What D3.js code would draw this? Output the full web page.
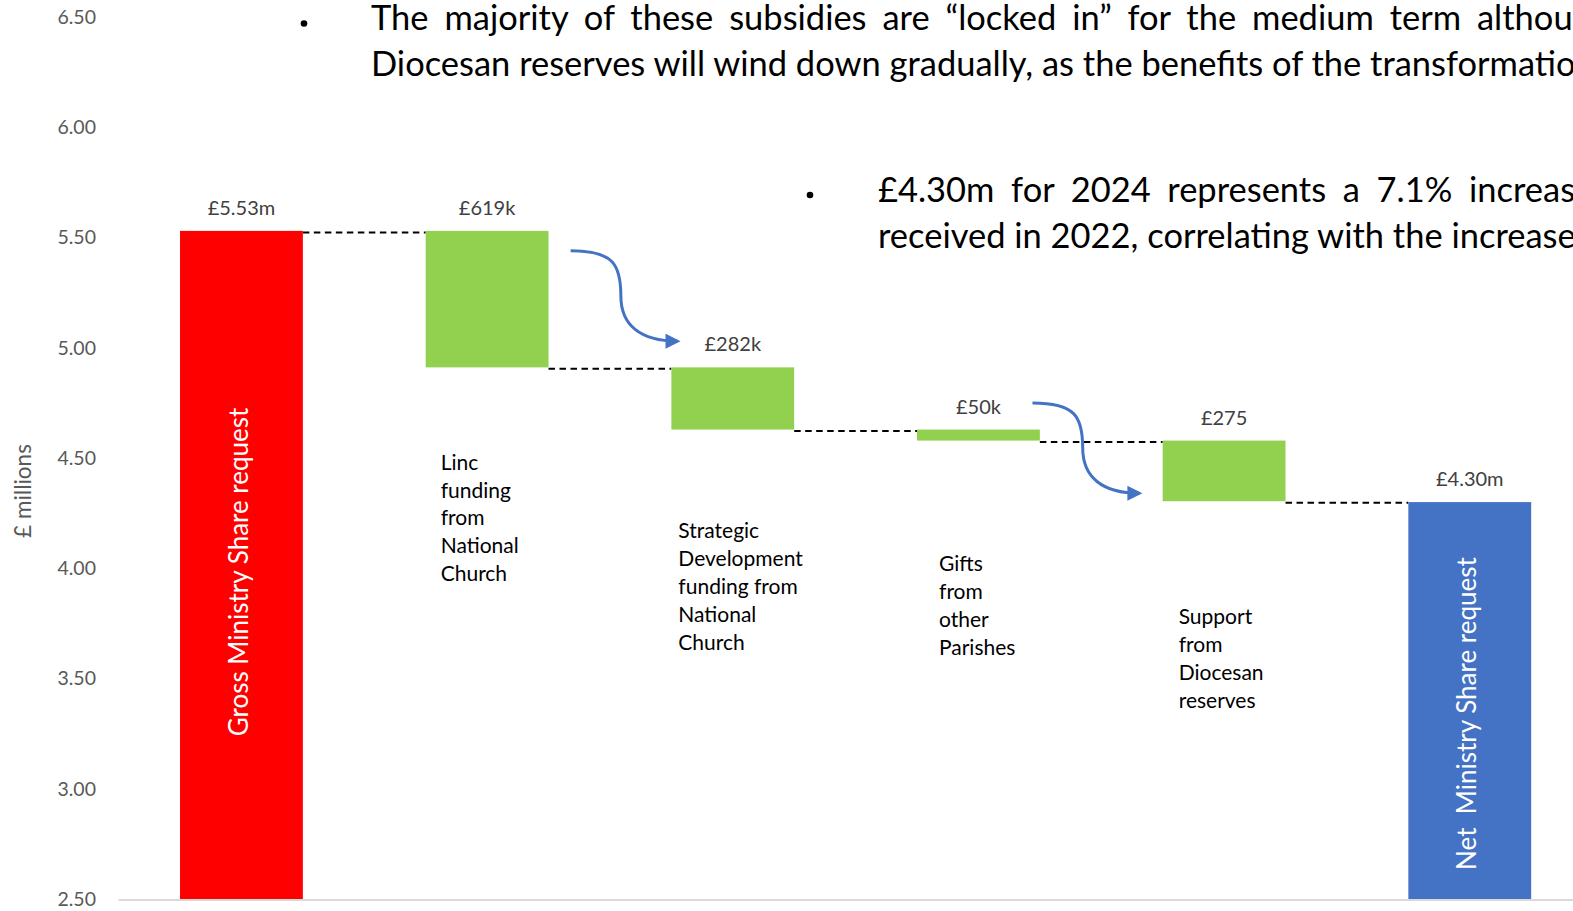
<!DOCTYPE html>
<html>
<head>
<meta charset="utf-8">
<script src="https://cdn.jsdelivr.net/npm/d3@7"></script>
<style>
  html, body { margin: 0; padding: 0; background: #fff; overflow: hidden; }
  svg { display: block; font-family: Lato, Carlito, "DejaVu Sans", sans-serif; }
</style>
</head>
<body>
<div id="chart"></div>
<script>
// ---- data ----
const categories = ["Gross", "Linc", "Strategic", "Gifts", "Support", "Net"];
const values = [5.53, -0.619, -0.282, -0.050, -0.275, 4.30];
const isTotal = [true, false, false, false, false, true];
const valueLabels = ["£5.53m", "£619k", "£282k", "£50k", "£275", "£4.30m"];
const barTexts = ["Gross Ministry Share request", "", "", "", "", "Net  Ministry Share request"];
const catLines = [
  [],
  ["Linc", "funding", "from", "National", "Church"],
  ["Strategic", "Development", "funding from", "National", "Church"],
  ["Gifts", "from", "other", "Parishes"],
  ["Support", "from", "Diocesan", "reserves"],
  []
];
const yTicks = [2.50, 3.00, 3.50, 4.00, 4.50, 5.00, 5.50, 6.00, 6.50];
const yTitle = "£ millions";
const bullets = [
  ["The majority of these subsidies are “locked in” for the medium term although",
   "Diocesan reserves will wind down gradually, as the benefits of the transformation"],
  ["£4.30m for 2024 represents a 7.1% increase",
   "received in 2022, correlating with the increase"]
];

// layout of the free-standing labels (value where first line sits, px offset from bar left)
const catLabelLayout = [null, [4.47, 15], [4.16, 7], [4.01, 22], [3.77, 16], null];
// vertical nudge of the rotated labels inside the total bars
const barTextShift = [7, 0, 0, 0, 0, 13];

const width = 1573, height = 911;

const svg = d3.select("#chart")
  .append("svg")
    .attr("width", width)
    .attr("height", height);

const x = d3.scaleBand()
  .domain(categories)
  .range([118.6, 1592.6])
  .paddingInner(0.5)
  .paddingOuter(0.25);

const y = d3.scaleLinear()
  .domain([2.5, 6.5])
  .range([899, 17]);

// waterfall steps
let run = 0;
const bars = values.map((v, i) => {
  let lo, hi;
  if (isTotal[i]) { lo = y.domain()[0]; hi = v; run = v; }
  else { hi = run; run = run + v; lo = run; }
  return {cat: categories[i], lo: lo, hi: hi, level: run, i: i};
});

const colors = ["#FF0000", "#92D050", "#92D050", "#92D050", "#92D050", "#4472C4"];

// Y axis labels
const yAxis = svg.append("g")
  .attr("transform", "translate(96,0)")
  .call(d3.axisLeft(y).tickValues(yTicks).tickFormat(d3.format(".2f")).tickSize(0).tickPadding(0));
yAxis.select(".domain").remove();
yAxis.selectAll("text")
  .style("font-family", "Lato, Carlito, sans-serif")
  .style("font-size", "19.5px")
  .attr("fill", "#595959");

// Y title
svg.append("text")
  .attr("transform", "translate(25," + 491 + ") rotate(-90)")
  .attr("text-anchor", "middle")
  .attr("dominant-baseline", "middle")
  .style("font-size", "22.5px")
  .attr("fill", "#595959")
  .text(yTitle);

// baseline
svg.append("line")
  .attr("x1", x.range()[0])
  .attr("x2", width)
  .attr("y1", y(2.5) + 1)
  .attr("y2", y(2.5) + 1)
  .attr("stroke", "#D9D9D9")
  .attr("stroke-width", 2);

// connectors
svg.append("g")
  .selectAll("line")
  .data(bars.slice(0, -1))
  .join("line")
    .attr("x1", d => x(d.cat) + x.bandwidth())
    .attr("x2", d => x(categories[d.i + 1]))
    .attr("y1", d => y(d.level) + 1.5)
    .attr("y2", d => y(d.level) + 1.5)
    .attr("stroke", "#000")
    .attr("stroke-width", 2)
    .style("stroke-dasharray", "6.5,4.5");

// bars
svg.append("g")
  .selectAll("rect")
  .data(bars)
  .join("rect")
    .attr("x", d => x(d.cat))
    .attr("width", x.bandwidth())
    .attr("y", d => y(d.hi))
    .attr("height", d => y(d.lo) - y(d.hi))
    .attr("fill", (d, i) => colors[i]);

// value labels
svg.append("g")
  .selectAll("text")
  .data(bars)
  .join("text")
    .attr("x", d => x(d.cat) + x.bandwidth() / 2)
    .attr("y", d => y(d.hi) - 21)
    .attr("text-anchor", "middle")
    .attr("dominant-baseline", "middle")
    .style("font-size", "20px")
    .attr("fill", "#404040")
    .text((d, i) => valueLabels[i]);

// rotated in-bar labels
svg.append("g")
  .selectAll("text")
  .data(bars.filter((d, i) => barTexts[i] !== ""))
  .join("text")
    .attr("transform", d => "translate(" + (x(d.cat) + x.bandwidth() / 2) + "," + ((y(d.hi) + y(d.lo)) / 2 + barTextShift[d.i]) + ") rotate(-90)")
    .attr("text-anchor", "middle")
    .attr("dominant-baseline", "middle")
    .style("font-size", "26px")
    .style("white-space", "pre")
    .attr("fill", "#fff")
    .text(d => barTexts[d.i]);

// category labels under the green steps
const lineH = 27.9;
bars.forEach((d, i) => {
  if (!catLabelLayout[i]) return;
  const t = svg.append("text")
    .attr("x", x(d.cat) + catLabelLayout[i][1])
    .attr("y", y(catLabelLayout[i][0]))
    .attr("dominant-baseline", "middle")
    .style("font-size", "21px")
    .attr("fill", "#000");
  t.selectAll("tspan")
    .data(catLines[i])
    .join("tspan")
      .attr("x", x(d.cat) + catLabelLayout[i][1])
      .attr("dy", (s, k) => k === 0 ? 0 : lineH)
      .text(s => s);
});

// arrows
const defs = svg.append("defs");
defs.append("marker")
  .attr("id", "arrowhead")
  .attr("markerUnits", "userSpaceOnUse")
  .attr("viewBox", "0 0 10 10")
  .attr("refX", 8)
  .attr("refY", 5)
  .attr("markerWidth", 17)
  .attr("markerHeight", 15)
  .attr("orient", "auto")
  .append("path")
    .attr("d", "M0,0 L10,5 L0,10 z")
    .attr("fill", "#4472C4");

const arrows = [
  {from: "Linc", fx: 1.18, v0: 5.44, to: "Strategic", tx: 0.05, v1: 5.03},
  {from: "Gifts", fx: 0.94, v0: 4.75, to: "Support", tx: -0.19, v1: 4.34}
];
svg.append("g")
  .selectAll("path")
  .data(arrows)
  .join("path")
    .attr("d", a => {
      const x0 = x(a.from) + a.fx * x.bandwidth(), y0 = y(a.v0);
      const x1 = x(a.to) + a.tx * x.bandwidth(), y1 = y(a.v1);
      const w = x1 - x0, h = y1 - y0;
      const xm = x0 + 0.47 * w, ym = y0 + 0.5 * h;
      return `M${x0},${y0} C${x0 + 0.4 * w},${y0} ${xm},${ym - 0.35 * h} ${xm},${ym} ` +
             `C${xm},${ym + 0.32 * h} ${x1 - 0.35 * w},${y1} ${x1},${y1}`;
    })
    .attr("fill", "none")
    .attr("stroke", "#4472C4")
    .attr("stroke-width", 3)
    .attr("marker-end", "url(#arrowhead)");

// ---- bullet notes ----
function measure(txt, size) {
  const t = svg.append("text").style("font-size", size + "px").style("white-space", "pre").text(txt);
  const w = t.node().getComputedTextLength();
  t.remove();
  return w;
}
const noteSize = 100 * 1205 / measure("Diocesan reserves will wind down gradually, as the benefits of the transformatio", 100);

const notes = [
  {bx: 304, tx: 371, y: 21.5, first: "The majority of these subsidies are “locked in” for the medium term ", target: 1477},
  {bx: 810, tx: 878, y: 193, first: "£4.30m for 2024 represents a 7.1% ", target: 1469}
];
notes.forEach((n, k) => {
  svg.append("circle")
    .attr("cx", n.bx).attr("cy", n.y + 2)
    .attr("r", 3.3)
    .attr("fill", "#000");
  const natural = measure(n.first, noteSize);
  const spaces = n.first.split(" ").length - 1;
  const ws = (n.target - n.tx - natural) / spaces;
  svg.append("text")
    .attr("x", n.tx).attr("y", n.y)
    .attr("dominant-baseline", "middle")
    .style("font-size", noteSize + "px")
    .style("word-spacing", ws + "px")
    .text(bullets[k][0]);
  svg.append("text")
    .attr("x", n.tx).attr("y", n.y + 46)
    .attr("dominant-baseline", "middle")
    .style("font-size", noteSize + "px")
    .text(bullets[k][1]);
});
</script>
</body>
</html>
